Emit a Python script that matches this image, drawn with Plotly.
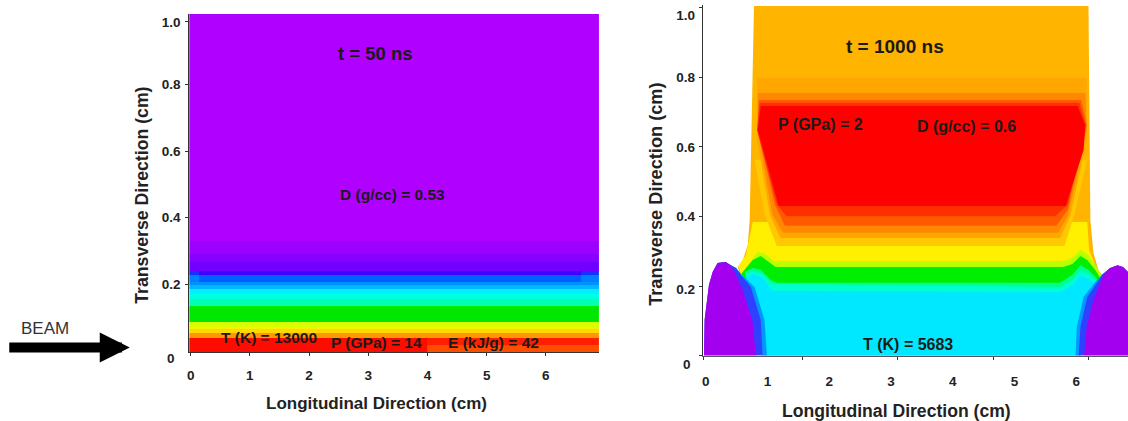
import plotly.graph_objects as go

# ---------- left panel (t = 50 ns): bands in cm ----------
left_x_edges = [-0.025, 0.15, 4.0, 6.6, 6.897]
left_y_edges = [-0.005, 0.017, 0.038, 0.053, 0.064, 0.071, 0.086, 0.134, 0.155, 0.170,
                0.185, 0.196, 0.206, 0.227, 0.240, 0.265, 0.290, 0.330, 1.012]
left_levels = [
    [1.00, 1.00, 0.94, 0.94],
    [1.00, 1.00, 0.98, 0.98],
    [0.86, 0.86, 0.86, 0.86],
    [0.79, 0.79, 0.79, 0.79],
    [0.74, 0.74, 0.74, 0.74],
    [0.68, 0.68, 0.68, 0.68],
    [0.56, 0.56, 0.56, 0.56],
    [0.48, 0.48, 0.48, 0.48],
    [0.44, 0.44, 0.44, 0.44],
    [0.40, 0.40, 0.40, 0.40],
    [0.36, 0.36, 0.36, 0.36],
    [0.30, 0.30, 0.30, 0.30],
    [0.28, 0.24, 0.24, 0.28],
    [0.20, 0.15, 0.15, 0.20],
    [0.12, 0.12, 0.12, 0.12],
    [0.09, 0.09, 0.09, 0.09],
    [0.05, 0.05, 0.05, 0.05],
    [0.00, 0.00, 0.00, 0.00],
]
rainbow = [
    [0.00, "#b000ff"], [0.08, "#9000ff"], [0.12, "#7000ff"], [0.16, "#3000ff"],
    [0.24, "#0060ff"], [0.30, "#0090ff"], [0.36, "#00b8ff"], [0.40, "#00f0ff"],
    [0.44, "#00ffe0"], [0.48, "#00ffb0"], [0.56, "#00e800"], [0.68, "#d8ff00"],
    [0.74, "#f8f000"], [0.79, "#ffd800"], [0.86, "#ff9800"], [0.92, "#ff6a00"],
    [0.96, "#ff3000"], [1.00, "#ff0c00"],
]

# ---------- right panel (t = 1000 ns): iso-band outlines in cm ----------
band_names = ["amber", "yellow", "core0", "core1", "core2", "core3", "core4", "red",
              "lime", "green", "teal", "aqua", "cyan",
              "hillL_sky", "hillL_blue", "hillL_purple", "hillR_sky", "hillR_blue", "hillR_purple"]
band_colors = ["#ffb400", "#fff000", "#ffc800", "#ffa600", "#ff8800", "#ff5a00", "#ff3000", "#ff0000",
               "#b8ff00", "#00ee00", "#00ff90", "#00ffd0", "#00e8ff",
               "#0098ff", "#3040ff", "#a400f0", "#0098ff", "#3040ff", "#a400f0"]
amber_x = [.78, 6.20, 6.23, 6.28, 6.36, 6.42, 6.07, .92, .52, .60, .68, .71]
amber_y = [1.006, 1.006, .390, .295, .246, .232, 0, 0, .255, .275, .318, .390]
yellow_x = [.76, .80, 6.14, 6.18, 6.21, 6.34, 6.42, 6.07, .92, .53, .65]
yellow_y = [.384, .384, .384, .384, .304, .246, .229, 0, 0, .258, .289]
core0_x = [.79, 6.18, 5.97, 5.81, 1.15, .955]
core0_y = [.563, .563, .404, .315, .315, .404]
core1_x = [.83, 6.17, 6.17, 5.91, 5.74, 1.21, 1.04, .83]
core1_y = [.799, .799, .620, .404, .338, .338, .404, .620]
core2_x = [.84, 6.15, 6.17, 5.87, 5.71, 1.25, 1.08, .84]
core2_y = [.755, .755, .649, .404, .353, .353, .404, .649]
core3_x = [.86, 6.08, 6.17, 5.86, 5.68, 1.28, 1.12, .84]
core3_y = [.735, .735, .663, .419, .373, .373, .433, .649]
core4_x = [.87, 6.05, 6.15, 5.86, 5.66, 1.31, 1.15, .83]
core4_y = [.727, .727, .663, .433, .401, .401, .433, .649]
red_x = [.89, 6.02, 6.15, 6.12, 5.83, 1.18, .84]
red_y = [.718, .718, .663, .591, .430, .430, .649]
lime_x = [.65, .84, .97, 1.10, 5.79, 5.94, 6.07, 6.20, 6.34, 6.42, 6.07, .92]
lime_y = [.252, .298, .292, .272, .272, .281, .304, .289, .252, .229, 0, 0]
green_x = [.58, .76, .89, 1.02, 1.13, 5.79, 5.94, 6.07, 6.18, 6.31, 6.39, 6.07, .92]
green_y = [.237, .275, .286, .269, .255, .255, .263, .286, .275, .246, .223, 0, 0]
teal_x = [.63, .76, .89, 1.05, 1.15, 5.74, 5.94, 6.07, 6.20, 6.34, 6.07, .92]
teal_y = [.240, .252, .246, .217, .209, .209, .232, .260, .246, .220, 0, 0]
aqua_x = [.65, .76, .91, 1.07, 5.74, 5.94, 6.07, 6.20, 6.34, 6.07, .92]
aqua_y = [.232, .243, .235, .206, .197, .217, .246, .235, .212, 0, 0]
cyan_x = [.65, .76, .92, 1.08, 5.74, 5.94, 6.07, 6.20, 6.33, 6.18, 6.07, 6.07, .92, .89, .73]
cyan_y = [.223, .235, .223, .186, .183, .203, .229, .220, .206, .168, .082, 0, 0, .102, .197]
hillL_sky_x = [-.03, .19, .32, .49, .60, .79, .95, .99]
hillL_sky_y = [0, .266, .269, .252, .229, .197, .102, 0]
hillL_blue_x = [-.03, -.02, .05, .11, .19, .32, .40, .49, .58, .73, .89, .92]
hillL_blue_y = [0, .102, .203, .240, .266, .269, .260, .252, .229, .197, .102, 0]
hillL_purple_x = [-.03, -.02, .05, .11, .19, .32, .40, .45, .60, .76, .81]
hillL_purple_y = [0, .102, .203, .240, .266, .269, .260, .246, .188, .096, 0]
hillR_sky_x = [6.84, 6.84, 6.55, 6.42, 6.30, 6.12, 6.01, 5.99]
hillR_sky_y = [0, .240, .252, .232, .209, .168, .082, 0]
hillR_blue_x = [6.84, 6.84, 6.76, 6.67, 6.55, 6.42, 6.34, 6.18, 6.07, 6.04]
hillR_blue_y = [0, .240, .255, .260, .252, .232, .209, .168, .082, 0]
hillR_purple_x = [6.84, 6.84, 6.76, 6.67, 6.55, 6.45, 6.28, 6.17, 6.13]
hillR_purple_y = [0, .240, .255, .260, .252, .235, .160, .082, 0]
band_outlines = [
    (amber_x, amber_y), (yellow_x, yellow_y), (core0_x, core0_y), (core1_x, core1_y),
    (core2_x, core2_y), (core3_x, core3_y), (core4_x, core4_y), (red_x, red_y),
    (lime_x, lime_y), (green_x, green_y), (teal_x, teal_y), (aqua_x, aqua_y), (cyan_x, cyan_y),
    (hillL_sky_x, hillL_sky_y), (hillL_blue_x, hillL_blue_y), (hillL_purple_x, hillL_purple_y),
    (hillR_sky_x, hillR_sky_y), (hillR_blue_x, hillR_blue_y), (hillR_purple_x, hillR_purple_y),
]

# ---------- ticks and labels ----------
left_xticks = [0, 1, 2, 3, 4, 5, 6]
left_yticks = [0.2, 0.4, 0.6, 0.8, 0.988]
right_xlabels = [0, 1, 2, 3, 4, 5, 6]
right_xmarks = [-0.03, 1.57, 3.11, 4.66, 6.20]
right_ylabels = [0.19, 0.4, 0.6, 0.8, 0.98]
right_ymarks = [0, 0.2, 0.4, 0.6, 0.8, 1.0]
ytick_text = ["0.2", "0.4", "0.6", "0.8", "1.0"]
X_TITLE = "Longitudinal Direction (cm)"
Y_TITLE = "Transverse Direction (cm)"

FONT = "Liberation Sans"
INK = "#222222"
W, H = 1128, 421

fig = go.Figure()
fig.add_trace(go.Heatmap(x=left_x_edges, y=left_y_edges, z=left_levels, zmin=0, zmax=1,
                         colorscale=rainbow, showscale=False, hoverinfo="skip",
                         xaxis="x", yaxis="y"))
for name, color, (bx, by) in zip(band_names, band_colors, band_outlines):
    fig.add_trace(go.Scatter(x=bx, y=by, name=name, mode="lines", fill="toself",
                             fillcolor=color, line=dict(width=0, color=color),
                             hoverinfo="skip", showlegend=False, xaxis="x2", yaxis="y2"))

tick_font = dict(family=FONT, size=13.5, color=INK, weight="bold")


def note(text, x, y, ref, size=15.5):
    return dict(text=text, x=x, y=y, xref="x" + ref, yref="y" + ref, showarrow=False,
                font=dict(family=FONT, size=size, color="#1a1a1a", weight="bold"))


def page_text(text, px, py, size, weight="bold", angle=0, color=INK):
    return dict(text=text, x=px / W, y=1 - py / H, xref="paper", yref="paper", showarrow=False,
                xanchor="center", yanchor="middle", textangle=angle,
                font=dict(family=FONT, size=size, color=color, weight=weight))


annotations = [
    note("t = 50 ns", 3.12, 0.892, "", 18.5),
    note("D (g/cc) = 0.53", 3.41, 0.468, ""),
    note("T (K) = 13000", 1.33, 0.038, ""),
    note("P (GPa) = 14", 3.14, 0.023, ""),
    note("E (kJ/g) = 42", 5.11, 0.023, ""),
    note("t = 1000 ns", 3.07, 0.888, "2", 19),
    note("P (GPa) = 2", 1.86, 0.666, "2", 16),
    note("D (g/cc) = 0.6", 4.22, 0.660, "2", 16),
    note("T (K) = 5683", 3.27, 0.033, "2", 16),
    page_text("0", 169, 358, 13.5),
    page_text("0", 686, 364, 13.5),
    page_text(X_TITLE, 375, 403, 17),
    page_text(X_TITLE, 896, 411, 17.6),
    page_text(Y_TITLE, 140, 195, 17.7, angle=-90),
    page_text(Y_TITLE, 655, 194, 18.2, angle=-90),
    page_text("BEAM", 43, 328, 17, weight="normal", color="#333333"),
    dict(text="", x=128 / W, y=1 - 347.5 / H, ax=-122, ay=0,
         xref="paper", yref="paper", axref="pixel", ayref="pixel",
         showarrow=True, arrowhead=2, arrowsize=0.6, arrowwidth=10, arrowcolor="#000000"),
]

fig.update_layout(
    width=W, height=H, autosize=False, margin=dict(l=0, r=0, t=0, b=0),
    paper_bgcolor="white", plot_bgcolor="white", showlegend=False,
    annotations=annotations,
    xaxis=dict(domain=[187.5 / W, 598 / W], range=[-0.025, 6.897], tickvals=left_xticks,
               ticks="outside", ticklen=3, tickcolor="#333", showgrid=False, zeroline=False,
               showline=True, linecolor="#333", linewidth=1, tickfont=tick_font,
               ticklabelstandoff=8),
    yaxis=dict(domain=[1 - 352 / H, 1 - 14 / H], range=[-0.0045, 1.012], tickvals=left_yticks,
               ticktext=ytick_text, ticks="outside", ticklen=3, tickcolor="#333", showgrid=False,
               zeroline=False, showline=True, linecolor="#333", linewidth=1, tickfont=tick_font,
               ticklabelstandoff=2),
    xaxis2=dict(domain=[702 / W, 1.0], range=[-0.05, 6.84], anchor="y2", tickvals=right_xlabels,
                ticks="", showgrid=False, zeroline=False, showline=True, linecolor="#556", linewidth=1,
                tickfont=tick_font, ticklabelstandoff=13,
                minor=dict(tickvals=right_xmarks, ticks="outside", ticklen=3, tickcolor="#333")),
    yaxis2=dict(domain=[1 - 355.5 / H, 1 - 4.5 / H], range=[0, 1.01], anchor="x2", tickvals=right_ylabels,
                ticktext=ytick_text, ticks="", showgrid=False, zeroline=False, showline=True,
                linecolor="#333", linewidth=1, tickfont=tick_font, ticklabelstandoff=4,
                minor=dict(tickvals=right_ymarks, ticks="outside", ticklen=3, tickcolor="#333")),
)

fig.write_html("out.html", config={"displayModeBar": False},
               post_script="document.body.style.margin='0';document.body.style.overflow='hidden';")
